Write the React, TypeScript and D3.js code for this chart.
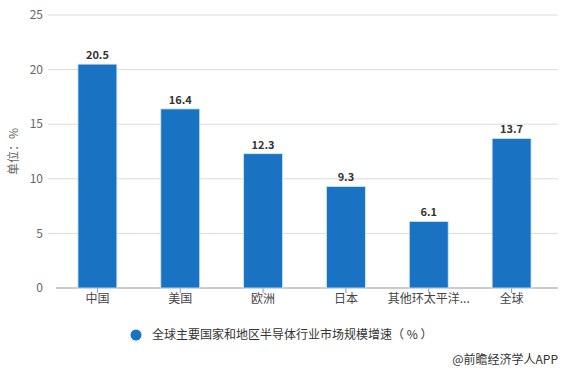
import React from 'react';
import * as d3 from 'd3';

const categories = ['中国', '美国', '欧洲', '日本', '其他环太平洋...', '全球'];
const growth = [20.5, 16.4, 12.3, 9.3, 6.1, 13.7];
const yTicks = [0, 5, 10, 15, 20, 25];
const seriesName = '全球主要国家和地区半导体行业市场规模增速（ % ）';

const W = 565;
const H = 372;
const margin = { top: 15, right: 12, bottom: 84, left: 56 };

export default function App() {
  const x = d3.scaleBand<string>()
    .domain(categories)
    .range([margin.left, W - margin.right])
    .paddingInner(0.53)
    .paddingOuter(0.265);
  const y = d3.scaleLinear().domain([0, 25]).range([H - margin.bottom, margin.top]);
  const font = '"Microsoft YaHei", "Noto Sans CJK SC", "Noto Sans", sans-serif';

  return (
    <div style={{ position: 'fixed', left: 0, top: 0 }}>
      <svg width={W} height={H} style={{ display: 'block', background: '#fff', fontFamily: font }}>
        {yTicks.map((t) => (
          <g key={t}>
            {t > 0 && (
              <line x1={48} x2={W - 7} y1={y(t)} y2={y(t)} stroke="#dcdcdc" strokeWidth={1} />
            )}
            <text x={43} y={y(t)} dy="0.35em" textAnchor="end" fontSize={12} fill="#666">
              {t}
            </text>
          </g>
        ))}
        <text
          transform={`translate(14,${(y(0) + y(25)) / 2}) rotate(-90)`}
          textAnchor="middle"
          dy="0.35em"
          fontSize={12}
          fill="#666"
        >
          单位：%
        </text>
        <line x1={margin.left} x2={W - 7} y1={y(0)} y2={y(0)} stroke="#999" strokeWidth={1} />
        {categories.map((c, i) => {
          const cx = (x(c) ?? 0) + x.bandwidth() / 2;
          return (
            <g key={c}>
              <line x1={cx} x2={cx} y1={y(0)} y2={y(0) + 5} stroke="#999" />
              <rect
                x={x(c)}
                y={y(growth[i])}
                width={x.bandwidth()}
                height={y(0) - y(growth[i])}
                fill="#1a73c2"
                stroke="#cfeaf9"
                strokeWidth={0.8}
              />
              <text x={cx} y={y(growth[i]) - 5} textAnchor="middle" fontSize={11} fontWeight="bold" fill="#333">
                {growth[i].toFixed(1)}
              </text>
              <text x={cx} y={y(0) + 15} textAnchor="middle" fontSize={12} fill="#444">
                {c}
              </text>
            </g>
          );
        })}
        <circle cx={136} cy={335} r={5.5} fill="#1a73c2" />
        <text x={152} y={335} dy="0.35em" fontSize={12} fill="#333">
          {seriesName}
        </text>
        <text x={W - 7} y={360} dy="0.35em" textAnchor="end" fontSize={12} fill="#333">
          @前瞻经济学人APP
        </text>
      </svg>
    </div>
  );
}
